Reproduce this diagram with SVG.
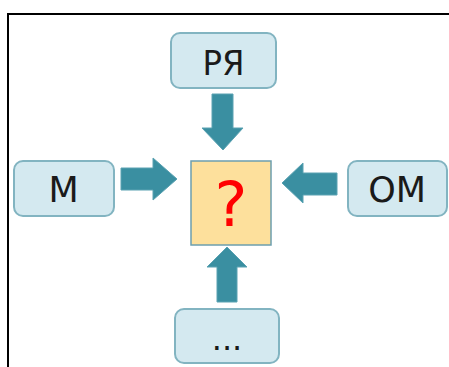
<svg xmlns="http://www.w3.org/2000/svg" width="449" height="367" viewBox="0 0 449 367">
<style>
.box{fill:#d4e9f0;stroke:#82b4c1;stroke-width:2}
.ctr{fill:#fde09c;stroke:#6c9fae;stroke-width:1.5}
.arr{fill:#3a8fa1;stroke:#5aa2b2;stroke-width:1}
.t{font-family:"DejaVu Sans","Open Sans",sans-serif;fill:#1a1a1a;text-anchor:middle}
</style>
<rect x="0" y="0" width="449" height="367" fill="#fff"/>
<rect x="8" y="14" width="470" height="400" fill="none" stroke="#000" stroke-width="2"/>
<g id="connectors">
<polygon class="arr" points="212,94 233,94 233,128 243,128 223,150 202,128 212,128"/>
<polygon class="arr" points="217,302 237,302 237,267 247,267 227,247 207,267 217,267"/>
<polygon class="arr" points="121,168 153,168 153,158 177,179 153,200 153,190 121,190"/>
<polygon class="arr" points="337,173 303,173 303,163 282,183 303,203 303,195 337,195"/>
</g>
<g id="node-ry">
<rect class="box" x="171" y="33" width="105" height="55" rx="9"/>
<text class="t" x="223.5" y="75" font-size="34" textLength="42" lengthAdjust="spacingAndGlyphs">РЯ</text>
</g>
<g id="node-m">
<rect class="box" x="14" y="161" width="100" height="55" rx="9"/>
<text class="t" x="63.5" y="202" font-size="35">М</text>
</g>
<g id="node-om">
<rect class="box" x="348" y="161" width="99" height="55" rx="9"/>
<text class="t" x="397" y="202" font-size="35">ОМ</text>
</g>
<g id="node-center">
<rect class="ctr" x="191" y="161" width="80" height="84"/>
<text class="t" x="231" y="226" font-size="62" style="fill:#ff0000">?</text>
</g>
<g id="node-more">
<rect class="box" x="175" y="309" width="104" height="54" rx="9"/>
<text class="t" x="227" y="350" font-size="32">...</text>
</g>
</svg>
